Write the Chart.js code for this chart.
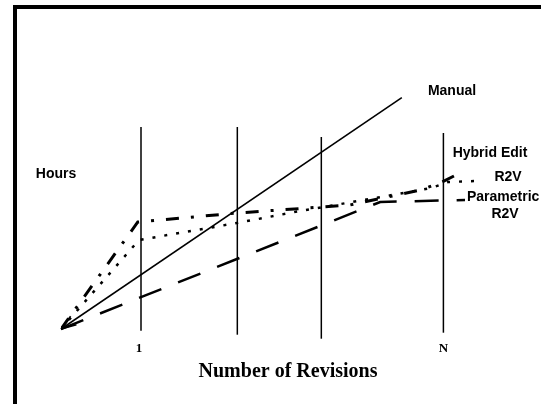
<!DOCTYPE html>
<html>
<head>
  <meta charset="UTF-8">
  <title>Hours vs Number of Revisions</title>
  <script src="https://cdn.jsdelivr.net/npm/chart.js"></script>
  <style>
    body {
      margin: 0;
      padding: 0;
      background-color: #fff;
      overflow: hidden;
    }

    .wrap {
      position: relative;
      width: 541px;
      height: 404px;
      overflow: hidden;
    }

    /* thick frame, cut off on the right and bottom */
    .frame {
      position: absolute;
      left: 13px;
      top: 5px;
      width: 600px;
      height: 500px;
      border: 4px solid #000;
      pointer-events: none;
    }

    canvas {
      position: absolute;
      left: 0;
      top: 0;
    }
  </style>
</head>
<body>

<div class="wrap">
  <canvas id="revChart" width="541" height="404"></canvas>
  <div class="frame"></div>
</div>

<script>
  // values (x: revisions, y: hours, arbitrary units)
  const manualX = [0, 4.26];
  const manualY = [0, 11.57];

  const hybridX = [0, 0.96, 2.2, 3.61, 4.49, 4.74, 5.01];
  const hybridY = [0, 5.35, 5.8, 6.2, 6.95, 7.3, 7.85];

  const r2vX = [0, 0.975, 2.2, 2.99, 3.86, 4.63, 4.84, 5.2];
  const r2vY = [0, 4.45, 5.3, 5.9, 6.5, 7.05, 7.35, 7.4];

  const paramX = [0, 3.99, 5.05];
  const paramY = [0, 6.35, 6.45];

  // vertical revision markers
  const markerX = [1, 2.204, 3.254, 4.78];
  const markerTop = [10.1, 10.1, 9.6, 9.8];
  const markerBottom = [-0.085, -0.285, -0.485, -0.185];

  const tickPos = [1, 4.78];
  const tickLabels = ['1', 'N'];

  const seriesNames = ['Manual', 'Hybrid Edit', 'R2V', 'Parametric R2V'];

  function toPoints(xs, ys) {
    return xs.map((x, i) => ({ x: x, y: ys[i] }));
  }

  const datasets = [];

  markerX.forEach((x, i) => {
    datasets.push({
      label: 'rev' + i,
      data: [{ x: x, y: markerBottom[i] }, { x: x, y: markerTop[i] }],
      borderColor: '#000',
      borderWidth: 1.5
    });
  });

  datasets.push({
    label: seriesNames[0],
    data: toPoints(manualX, manualY),
    borderColor: '#000',
    borderWidth: 1.6
  });
  datasets.push({
    label: seriesNames[1],
    data: toPoints(hybridX, hybridY),
    borderColor: '#000',
    borderWidth: 3,
    borderDash: [13, 12, 3, 12]
  });
  datasets.push({
    label: seriesNames[2],
    data: toPoints(r2vX, r2vY),
    borderColor: '#000',
    borderWidth: 2.5,
    borderDash: [3, 9]
  });
  datasets.push({
    label: seriesNames[3],
    data: toPoints(paramX, paramY),
    borderColor: '#000',
    borderWidth: 2.5,
    borderDash: [24, 18]
  });

  // texts and the arrow head at the origin
  const textPlugin = {
    id: 'texts',
    afterDraw(chart) {
      const ctx = chart.ctx;
      const xs = chart.scales.x;
      const ys = chart.scales.y;
      ctx.save();
      ctx.fillStyle = '#000';
      ctx.textBaseline = 'middle';

      // arrow head on the manual line
      const ox = xs.getPixelForValue(manualX[0]);
      const oy = ys.getPixelForValue(manualY[0]);
      const ang = Math.atan2(ys.getPixelForValue(manualY[1]) - oy, xs.getPixelForValue(manualX[1]) - ox);
      ctx.strokeStyle = '#000';
      ctx.lineWidth = 1.6;
      [-0.33, 0.33].forEach(d => {
        ctx.beginPath();
        ctx.moveTo(ox, oy);
        ctx.lineTo(ox + 16 * Math.cos(ang + d), oy + 16 * Math.sin(ang + d));
        ctx.stroke();
      });

      ctx.font = 'bold 14px "Liberation Sans", Arial, sans-serif';
      ctx.textAlign = 'center';
      ctx.fillText(seriesNames[0], 452, 91);
      ctx.fillText(seriesNames[1], 490, 153);
      ctx.fillText('R2V', 508, 177);
      ctx.fillText('R2V', 505, 214);
      ctx.fillText('Hours', 56, 174);
      ctx.textAlign = 'left';
      ctx.fillText('Parametric', 467, 197);

      ctx.font = 'bold 13px "Liberation Serif", "Times New Roman", serif';
      ctx.textAlign = 'center';
      tickPos.forEach((t, i) => {
        ctx.fillText(tickLabels[i], xs.getPixelForValue(t) - (i === 0 ? 2 : 0), 349);
      });

      ctx.font = 'bold 20px "Liberation Serif", "Times New Roman", serif';
      ctx.fillText('Number of Revisions', 288, 372);
      ctx.restore();
    }
  };

  new Chart(document.getElementById('revChart').getContext('2d'), {
    type: 'line',
    data: { datasets: datasets },
    options: {
      responsive: false,
      animation: false,
      layout: { padding: { left: 61, right: 0, top: 29, bottom: 55 } },
      elements: {
        point: { radius: 0 },
        line: { tension: 0, borderCapStyle: 'butt', fill: false }
      },
      scales: {
        x: { type: 'linear', min: 0, max: 6, display: false },
        y: { type: 'linear', min: -1, max: 15, display: false }
      },
      plugins: {
        legend: { display: false },
        tooltip: { enabled: false }
      }
    },
    plugins: [textPlugin]
  });
</script>

</body>
</html>
